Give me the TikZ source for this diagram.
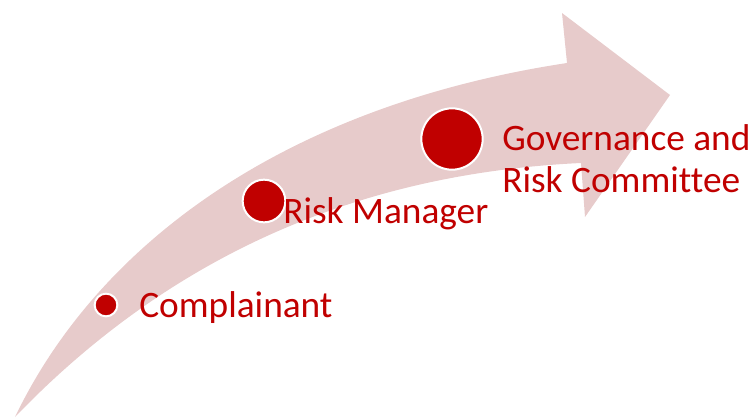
\documentclass[tikz,border=0pt]{standalone}
\usepackage{fontspec}
\setmainfont{Carlito}[Ligatures=NoCommon]
\definecolor{stepred}{RGB}{192,0,0}
\definecolor{arrowpink}{RGB}{231,203,203}
\tikzset{
  dot/.style={circle,fill=stepred,draw=white,line width=1.5pt,inner sep=0pt},
  steplabel/.style={text=stepred,font=\fontsize{28}{31.3}\selectfont,inner sep=0pt,anchor=base west}
}
\begin{document}
\begin{tikzpicture}[x=0.75pt,y=0.75pt,yscale=-1,xscale=1]
\useasboundingbox (0,0) rectangle (750,418);

%Shape: Curved Arrow
\fill [arrowpink] (15,417) .. controls (100,240) and (290,105) .. (567,63)
  -- (562,13) -- (670,95) -- (585,217) -- (581,163)
  .. controls (390,172) and (190,235) .. cycle ;

%Dots
\node [dot,minimum size=17] (dotc) at (106,305) {};
\node [dot,minimum size=32] (dotr) at (264,201) {};
\node [dot,minimum size=46] (dotg) at (452,139) {};

% Text Node
\node [steplabel] (complainant) at (139,317) {Complainant};
% Text Node
\node [steplabel] (riskmanager) at (283,223) {Risk Manager};
% Text Node
\node [steplabel,align=left] (committee) at (502,192) {Governance and\\Risk Committee};

\end{tikzpicture}
\end{document}
